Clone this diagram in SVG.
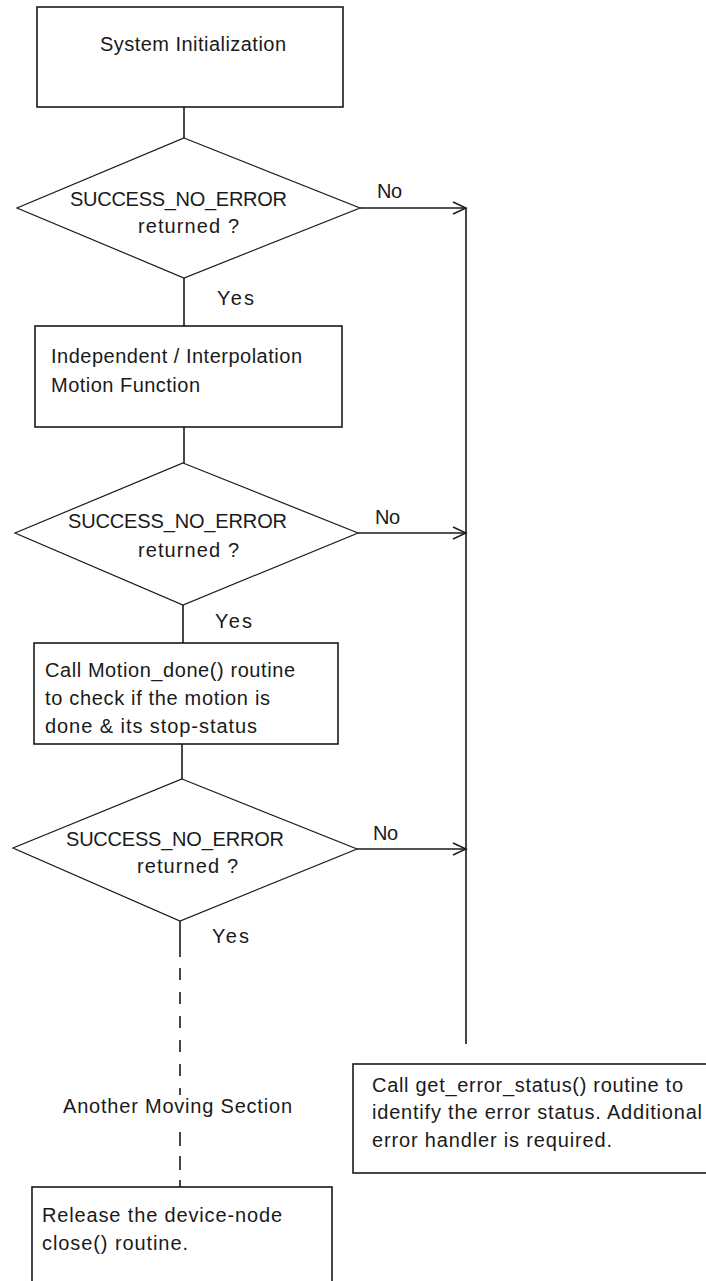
<svg xmlns="http://www.w3.org/2000/svg" width="706" height="1281" viewBox="0 0 706 1281">
<style>
  .box { fill: #ffffff; stroke: #1a1a1a; stroke-width: 1.6; }
  .dia { fill: #ffffff; stroke: #1a1a1a; stroke-width: 1.2; }
  .ln { fill: none; stroke: #1a1a1a; stroke-width: 1.6; }
  .dash { fill: none; stroke: #1a1a1a; stroke-width: 1.6; }
  text { font-family: "Liberation Sans", Arial, sans-serif; font-size: 20px; fill: #1a1a1a; }
</style>
<defs>
  <marker id="arr" markerUnits="userSpaceOnUse" markerWidth="16" markerHeight="14" refX="14" refY="7" orient="auto">
    <path d="M1,1 L14,7 L1,13" fill="none" stroke="#1a1a1a" stroke-width="1.4"/>
  </marker>
</defs>
<rect width="706" height="1281" fill="#ffffff"/>

<g id="connectors">
  <line class="ln" x1="184" y1="107" x2="184" y2="138"/>
  <line class="ln" x1="184" y1="278" x2="184" y2="326"/>
  <line class="ln" x1="184" y1="427" x2="184" y2="463"/>
  <line class="ln" x1="183" y1="605" x2="183" y2="643"/>
  <line class="ln" x1="182" y1="744" x2="182" y2="779"/>
  <line class="ln" x1="360" y1="208" x2="466" y2="208" marker-end="url(#arr)"/>
  <line class="ln" x1="358" y1="533" x2="466" y2="533" marker-end="url(#arr)"/>
  <line class="ln" x1="357" y1="849" x2="466" y2="849" marker-end="url(#arr)"/>
  <line class="ln" x1="466" y1="208" x2="466" y2="1044"/>
  <line class="ln" x1="180" y1="921" x2="180" y2="957"/>
  <line class="dash" x1="180" y1="968" x2="180" y2="1095" stroke-dasharray="12 12"/>
  <line class="dash" x1="180" y1="1132" x2="180" y2="1187" stroke-dasharray="14 10"/>
  <text x="377" y="198" textLength="25">No</text>
  <text x="375" y="524" textLength="25">No</text>
  <text x="373" y="840" textLength="25">No</text>
  <text x="217" y="305" textLength="37">Yes</text>
  <text x="215" y="628" textLength="37">Yes</text>
  <text x="212" y="943" textLength="37">Yes</text>
  <text x="63" y="1113" textLength="229">Another Moving Section</text>
</g>

<g id="init">
  <rect class="box" x="37" y="7" width="306" height="100"/>
  <text x="100" y="51" textLength="186">System Initialization</text>
</g>

<g id="check1">
  <polygon class="dia" points="184,138 360,208 184,278 17,208"/>
  <text x="70" y="206" textLength="217">SUCCESS_NO_ERROR</text>
  <text x="138" y="233" textLength="101">returned ?</text>
</g>

<g id="motion">
  <rect class="box" x="35" y="326" width="307" height="101"/>
  <text x="51" y="363" textLength="251">Independent / Interpolation</text>
  <text x="51" y="392" textLength="149">Motion Function</text>
</g>

<g id="check2">
  <polygon class="dia" points="183,463 358,533 183,605 15,533"/>
  <text x="68" y="528" textLength="219">SUCCESS_NO_ERROR</text>
  <text x="138" y="557" textLength="101">returned ?</text>
</g>

<g id="motiondone">
  <rect class="box" x="34" y="643" width="304" height="101"/>
  <text x="45" y="677" textLength="250">Call Motion_done() routine</text>
  <text x="45" y="705" textLength="225">to check if the motion is</text>
  <text x="45" y="733" textLength="212">done &amp; its stop-status</text>
</g>

<g id="check3">
  <polygon class="dia" points="182,779 357,849 180,921 13,848"/>
  <text x="66" y="846" textLength="218">SUCCESS_NO_ERROR</text>
  <text x="137" y="873" textLength="101">returned ?</text>
</g>

<g id="error">
  <rect class="box" x="353" y="1064" width="360" height="109"/>
  <text x="372" y="1092" textLength="311">Call get_error_status() routine to</text>
  <text x="372" y="1119" textLength="330">identify the error status. Additional</text>
  <text x="372" y="1147" textLength="240">error handler is required.</text>
</g>

<g id="release">
  <rect class="box" x="32" y="1187" width="300" height="110"/>
  <text x="42" y="1222" textLength="240">Release the device-node</text>
  <text x="42" y="1250" textLength="146">close() routine.</text>
</g>
</svg>
